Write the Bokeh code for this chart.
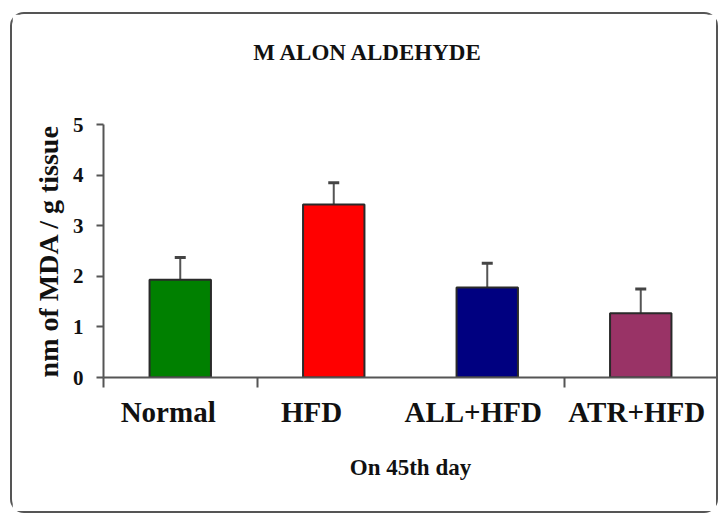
from bokeh.plotting import figure
from bokeh.models import Whisker, TeeHead, ColumnDataSource, FixedTicker, Range1d, LinearAxis
from bokeh.embed import file_html
from bokeh.resources import INLINE

# ---- data ----
categories = ["Normal", "HFD", "ALL+HFD", "ATR+HFD"]
mda_values = [1.93, 3.42, 1.78, 1.27]
mda_error = [0.44, 0.43, 0.48, 0.48]
bar_colors = ["#008000", "#FF0000", "#000080", "#993366"]
y_ticks = [0, 1, 2, 3, 4, 5]
title_text = "M ALON ALDEHYDE"
x_title = "On 45th day"
y_title = "nm of MDA / g tissue"

# ---- layout ----
W, H = 708, 501
CW, CH = W - 4, H - 4          # canvas inside the 2px border
FL, FR, FT, FB = 91, 3, 110, 138
FW = CW - FL - FR
NX = len(categories)
YMAX = 5
PX_PER_X = FW / NX

p = figure(width=W, height=H, output_backend="svg", toolbar_location=None, title=None,
           x_range=Range1d(0, NX), y_range=Range1d(0, YMAX),
           min_border_left=FL, min_border_right=FR, min_border_top=FT, min_border_bottom=FB)
p.styles = {"border": "2px solid #555555", "border-radius": "14px",
            "margin-left": "10px", "margin-top": "12px"}
p.outline_line_color = None
p.xgrid.visible = False
p.ygrid.visible = False
p.background_fill_color = "white"

xa = p.xaxis[0]
ya = p.yaxis[0]

xs = [i + 0.5 for i in range(NX)]
src = ColumnDataSource(dict(x=xs, top=mda_values, color=bar_colors,
                            upper=[v + e for v, e in zip(mda_values, mda_error)]))
p.vbar(x="x", top="top", width=0.4, fill_color="color", line_color="#2a2a2a",
       line_width=2, source=src)

wh = Whisker(base="x", lower="top", upper="upper", source=src,
             line_color="#555555", line_width=2, lower_head=None,
             upper_head=TeeHead(size=11, line_color="#444444", line_width=3))
p.add_layout(wh)

SERIF = dict(font="Liberation Serif", style="bold", color="#111111")

# main axes
xa.ticker = FixedTicker(ticks=[0, 1, 3, 4])
xa.major_label_text_font_size = "0px"
xa.major_label_text_color = None
xa.major_label_standoff = 0
ya.ticker = FixedTicker(ticks=y_ticks)
for ax in (xa, ya):
    ax.axis_line_color = "#555555"
    ax.axis_line_width = 2
    ax.major_tick_line_color = "#555555"
    ax.major_tick_line_width = 2
    ax.major_tick_in = 0
    ax.minor_tick_line_color = None
xa.major_tick_out = 10
ya.major_tick_out = 7
ya.major_label_text_font = SERIF["font"]
ya.major_label_text_font_style = SERIF["style"]
ya.major_label_text_font_size = "21px"
ya.major_label_text_color = SERIF["color"]
ya.major_label_standoff = 13
ya.axis_label = y_title
ya.axis_label_text_font = SERIF["font"]
ya.axis_label_text_font_style = SERIF["style"]
ya.axis_label_text_font_size = "28px"
ya.axis_label_text_color = SERIF["color"]
ya.axis_label_standoff = 6


def plain_axis(ax):
    ax.axis_line_color = None
    ax.major_tick_line_color = None
    ax.minor_tick_line_color = None
    ax.major_tick_in = 0
    ax.major_tick_out = 0
    ax.major_label_text_font = SERIF["font"]
    ax.major_label_text_font_style = SERIF["style"]
    ax.major_label_text_color = SERIF["color"]


# title, drawn as the single label of a bare top axis (placed left of centre as in the original)
title_pos = 1.725
top_axis = LinearAxis(ticker=FixedTicker(ticks=[title_pos]),
                      major_label_overrides={title_pos: title_text})
plain_axis(top_axis)
top_axis.major_label_text_font_size = "23px"
top_axis.major_label_standoff = 60
p.add_layout(top_axis, "above")

# category labels on a second, line-less axis (slightly offset as in the original)
label_shift_px = [-12, -22, -14, -4]
label_pos = [x + s / PX_PER_X for x, s in zip(xs, label_shift_px)]
cat_axis = LinearAxis(ticker=FixedTicker(ticks=label_pos),
                      major_label_overrides={pos: c for pos, c in zip(label_pos, categories)})
plain_axis(cat_axis)
cat_axis.major_label_standoff = 8
cat_axis.major_label_text_font_size = "29px"
cat_axis.axis_label = x_title
cat_axis.axis_label_standoff = 24
cat_axis.axis_label_text_font = SERIF["font"]
cat_axis.axis_label_text_font_style = SERIF["style"]
cat_axis.axis_label_text_font_size = "23px"
cat_axis.axis_label_text_color = SERIF["color"]
p.add_layout(cat_axis, "below")

open("out.html", "w").write(file_html(p, INLINE))
